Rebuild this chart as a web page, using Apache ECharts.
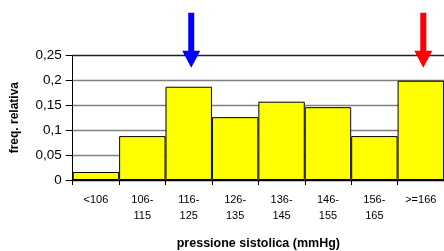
<!DOCTYPE html>
<html><head><meta charset="utf-8">
<script src="https://cdn.jsdelivr.net/npm/echarts@6/dist/echarts.min.js"></script>
<style>html,body{margin:0;padding:0;background:#fff}#c{width:444px;height:251px}</style>
</head><body><div id="c"></div>
<script>
const categories = ['<106', '106-\n115', '116-\n125', '126-\n135', '136-\n145', '146-\n155', '156-\n165', '>=166'];
const freqRel = [0.016, 0.088, 0.187, 0.126, 0.157, 0.146, 0.088, 0.199];
const yTicks = [0, 0.05, 0.1, 0.15, 0.2, 0.25];
const arrows = [
  { category: '116-\n125', value: 0.225, color: '#0000ff' },
  { category: '>=166', value: 0.225, color: '#ff0000' }
];
const arrowPath = 'path://M6,0 L12,0 L12,38 L18,38 L9,55 L0,38 L6,38 Z';

const chart = echarts.init(document.getElementById('c'), null, { renderer: 'canvas' });
chart.setOption({
  animation: false,
  grid: { left: 72.7, top: 55.3, width: 373.3, bottom: 70.7, containLabel: false },
  xAxis: {
    type: 'category',
    data: categories,
    name: 'pressione sistolica (mmHg)',
    nameLocation: 'middle',
    nameGap: 57,
    nameTextStyle: { fontFamily: 'Liberation Sans, Arial', fontWeight: 'bold', fontSize: 12.5, color: '#000' },
    axisLine: { lineStyle: { color: '#000', width: 1 } },
    axisTick: { show: true, length: 5, lineStyle: { color: '#000' } },
    axisLabel: { fontFamily: 'Liberation Sans, Arial', fontSize: 11, color: '#000', lineHeight: 16, margin: 12, interval: 0 }
  },
  yAxis: {
    type: 'value',
    min: 0, max: 0.25, interval: 0.05,
    name: 'freq. relativa',
    nameLocation: 'middle',
    nameRotate: 90,
    nameGap: 52,
    nameTextStyle: { fontFamily: 'Liberation Sans, Arial', fontWeight: 'bold', fontSize: 12, color: '#000' },
    axisLine: { show: true, lineStyle: { color: '#000', width: 1 } },
    axisTick: { show: true, length: 7, lineStyle: { color: '#000' } },
    axisLabel: {
      fontFamily: 'Liberation Sans, Arial', fontSize: 13.5, color: '#000', margin: 11,
      formatter: v => { const t = yTicks.find(x => Math.abs(x - v) < 1e-9); return t === undefined ? '' : String(t).replace('.', ','); }
    },
    splitLine: { show: true, lineStyle: { color: ['#000', '#808080', '#808080', '#808080', '#808080', '#222'], width: 1.3 } }
  },
  series: [{
    type: 'bar',
    data: freqRel,
    barCategoryGap: '0%',
    itemStyle: { color: '#ffff00', borderColor: '#000', borderWidth: 1 },
    markPoint: {
      symbol: arrowPath,
      symbolSize: [18, 55],
      symbolOffset: [2.5, '-50%'],
      label: { show: false },
      data: arrows.map(a => ({ coord: [a.category, a.value], itemStyle: { color: a.color } }))
    }
  }]
});
</script></body></html>
